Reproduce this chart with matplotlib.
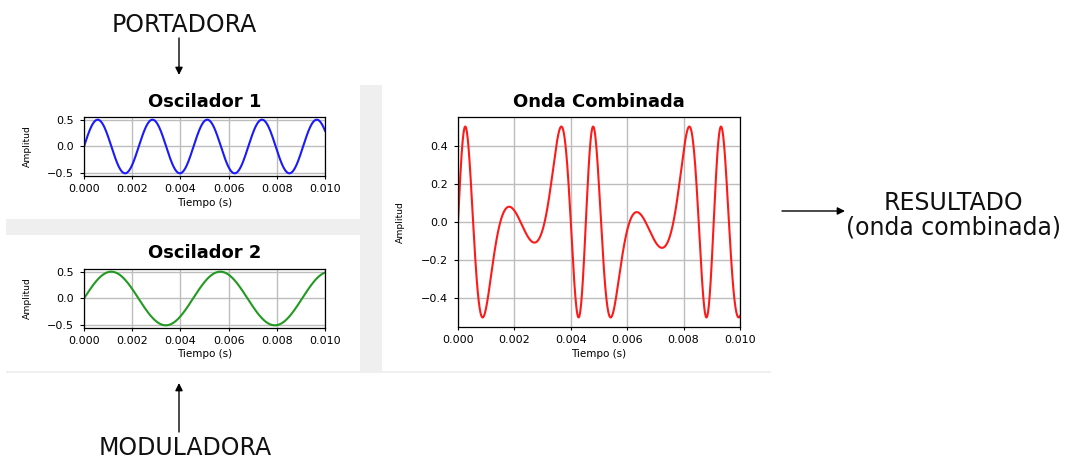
import numpy as np
import matplotlib
matplotlib.use("Agg")
import matplotlib.pyplot as plt
from matplotlib.patches import Rectangle, FancyArrowPatch

# ---- data ----
time_range_s = [0.0, 0.01]
carrier_freq_hz = 440.0      # Oscilador 1 (portadora)
modulator_freq_hz = 221.0    # Oscilador 2 (moduladora)
amplitude = 0.5
modulation_index = 2.45
n_samples = 2000

x_ticks = [0.000, 0.002, 0.004, 0.006, 0.008, 0.010]
osc_y_ticks = [-0.5, 0.0, 0.5]
comb_y_ticks = [-0.4, -0.2, 0.0, 0.2, 0.4]

titles = ["Oscilador 1", "Oscilador 2", "Onda Combinada"]
x_label = "Tiempo (s)"
y_label = "Amplitud"
line_colors = ["#1a1aff", "#229a22", "#ff1a1a"]
annot_top = "PORTADORA"
annot_bottom = "MODULADORA"
annot_right = ["RESULTADO", "(onda combinada)"]

# ---- signals ----
t = np.linspace(time_range_s[0], time_range_s[1], n_samples)
osc1 = amplitude * np.sin(2 * np.pi * carrier_freq_hz * t)
osc2 = amplitude * np.sin(2 * np.pi * modulator_freq_hz * t)
combined = amplitude * np.sin(2 * np.pi * carrier_freq_hz * t
                              + modulation_index * np.sin(2 * np.pi * modulator_freq_hz * t))

W, H = 1082, 461
fig = plt.figure(figsize=(W / 100, H / 100), dpi=100)
fig.patch.set_facecolor("white")


def rect(l, t_, r, b):
    return [l / W, 1 - b / H, (r - l) / W, (b - t_) / H]


# gray GUI separators
gray = "#efefef"
for (l, tp, r, b) in [(360, 85, 382, 372), (6, 219, 360, 235), (6, 371, 771, 373)]:
    x0, y0, w, h = rect(l, tp, r, b)
    fig.patches.append(Rectangle((x0, y0), w, h, transform=fig.transFigure,
                                 facecolor=gray, edgecolor="none", zorder=0))


def style(ax, yticks, title, title_pad, xlab_y, ylab_x):
    ax.set_xlim(time_range_s)
    ax.set_xticks(x_ticks)
    ax.set_xticklabels([f"{v:.3f}" for v in x_ticks])
    ax.set_yticks(yticks)
    ax.set_yticklabels([f"{v:.1f}".replace("-", "\u2212") for v in yticks])
    ax.tick_params(axis="x", labelsize=8, length=2.5, pad=3.2, width=0.8)
    ax.tick_params(axis="y", labelsize=8, length=3, pad=4.5, width=0.8)
    ax.grid(True, color="#bdbdbd", linewidth=1.0)
    ax.set_axisbelow(True)
    for s in ax.spines.values():
        s.set_linewidth(0.9)
    ax.set_title(title, fontsize=13, fontweight="bold", pad=title_pad)
    ax.set_xlabel(x_label, fontsize=7.5)
    ax.xaxis.set_label_coords(0.5, xlab_y)
    ax.set_ylabel(y_label, fontsize=6.7)
    ax.yaxis.set_label_coords(ylab_x, 0.5)


ax1 = fig.add_axes(rect(84, 117, 325, 176))
ax1.plot(t, osc1, color=line_colors[0], lw=1.5)
style(ax1, osc_y_ticks, titles[0], 7, (176 - 198) / 59, (32 - 84) / 241)

ax2 = fig.add_axes(rect(84, 269, 325, 328))
ax2.plot(t, osc2, color=line_colors[1], lw=1.5)
style(ax2, osc_y_ticks, titles[1], 7.9, (328 - 349) / 59, (32 - 84) / 241)

ax3 = fig.add_axes(rect(458, 117, 740, 327))
ax3.plot(t, combined, color=line_colors[2], lw=1.5)
style(ax3, comb_y_ticks, titles[2], 7.2, (327 - 349) / 210, (405 - 458) / 282)

# annotations
afont = dict(fontsize=17, family="DejaVu Sans", color="#111111")
fig.text(184 / W, 1 - 31.7 / H, annot_top, ha="center", va="baseline", **afont)
fig.text(185 / W, 1 - 454.5 / H, annot_bottom, ha="center", va="baseline", **afont)
fig.text(953.5 / W, 1 - 209.5 / H, annot_right[0], ha="center", va="baseline", **afont)
fig.text(953.5 / W, 1 - 234 / H, annot_right[1], ha="center", va="baseline", **afont)


def arrow(x0, y0, x1, y1):
    fig.patches.append(FancyArrowPatch((x0 / W, 1 - y0 / H), (x1 / W, 1 - y1 / H),
                                       transform=fig.transFigure, arrowstyle="-|>",
                                       mutation_scale=11, lw=1.0, color="black",
                                       shrinkA=0, shrinkB=0))


arrow(179, 38, 179, 75)
arrow(179, 432, 179, 383)
arrow(782, 211, 845, 211)

fig.savefig("out.png", dpi=100)
